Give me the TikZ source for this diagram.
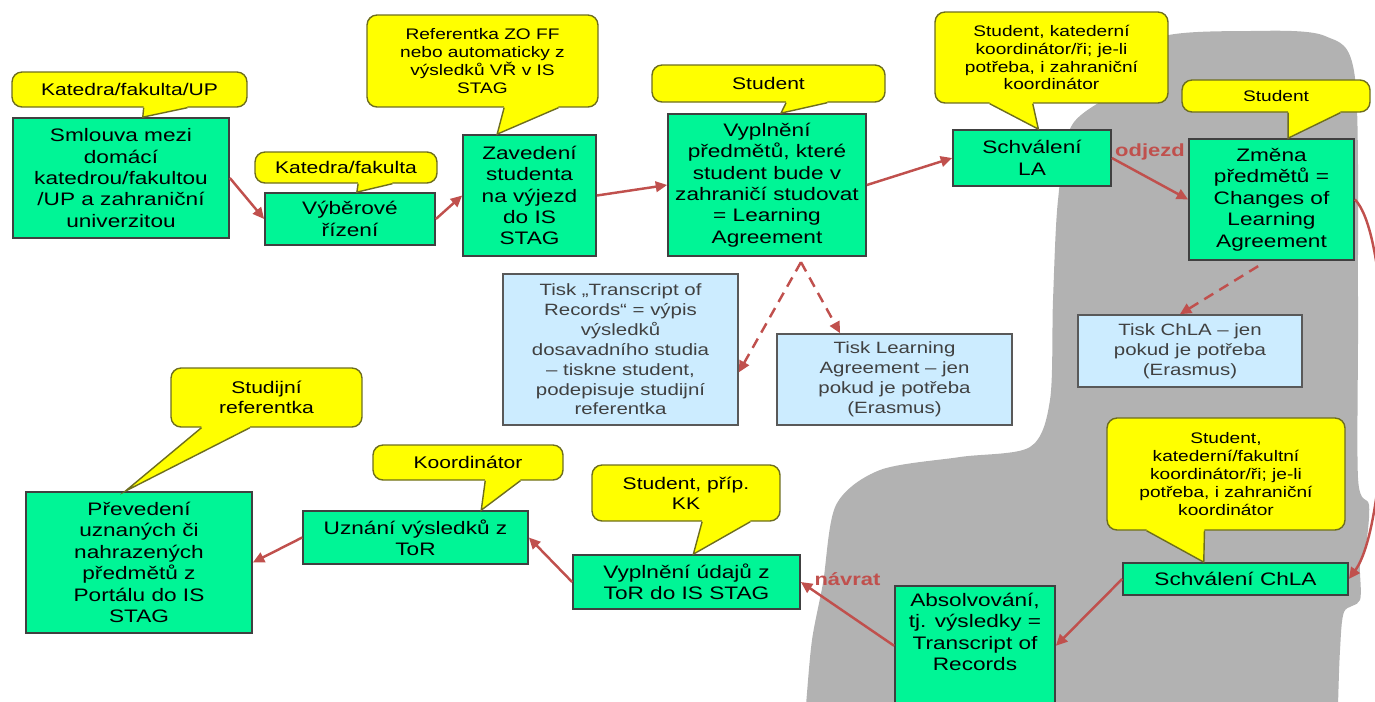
\documentclass[tikz,border=0pt]{standalone}
\usepackage{fontspec}
\setmainfont[FakeStretch=1.25]{Liberation Sans}
\usetikzlibrary{arrows.meta, calc, shapes.misc}

\definecolor{boxgreen}{RGB}{0,245,150}
\definecolor{boxblue}{RGB}{204,236,255}
\definecolor{bubbleyellow}{RGB}{255,255,0}
\definecolor{bubbleborder}{RGB}{110,110,30}
\definecolor{arrowred}{RGB}{192,80,77}
\definecolor{blobgray}{RGB}{178,178,178}

\tikzset{
    greenbox/.style={draw=black!75, line width=1pt, fill=boxgreen, align=center, inner sep=1pt,
        font=\fontsize{10.3pt}{12.2pt}\selectfont},
    bluebox/.style={draw=black!65, line width=0.9pt, fill=boxblue, text=black!75, align=center,
        inner sep=1pt, font=\fontsize{9.3pt}{11.3pt}\selectfont},
    bubbleline/.style={draw=bubbleborder, line width=0.8pt},
    bubble/.style={bubbleline, fill=bubbleyellow, rounded corners=0.2cm, align=center, inner sep=1pt,
        font=\fontsize{8.7pt}{10.2pt}\selectfont},
    bigbubble/.style={font=\fontsize{9.6pt}{11.3pt}\selectfont},
    flow/.style={draw=arrowred, line width=1.4pt, -{Triangle[length=6.5pt,width=6pt]}},
    dashflow/.style={flow, dash pattern=on 6pt off 4pt},
    arrowlabel/.style={text=arrowred, inner sep=0pt, font=\fontsize{10pt}{12pt}\selectfont\bfseries}
}

% pointer of a speech bubble: bubble, two fractions of its lower side, tip
\newcommand\calloutptr[4]{%
    \fill[bubbleyellow] ($(#1.south west)!#2!(#1.south east)+(0,1.5pt)$) -- ($(#1.south west)!#2!(#1.south east)$)
        -- (#4) -- ($(#1.south west)!#3!(#1.south east)$) -- ($(#1.south west)!#3!(#1.south east)+(0,1.5pt)$) -- cycle;
    \draw[bubbleline] ($(#1.south west)!#2!(#1.south east)$) -- (#4) -- ($(#1.south west)!#3!(#1.south east)$);
}

\begin{document}
\begin{tikzpicture}[x=0.02cm, y=-0.02cm]
    \useasboundingbox (0,0) rectangle (1375,701);

    % grey area (abroad)
    \fill[blobgray] plot[smooth cycle, tension=0.5] coordinates {
        (1058,200) (1072,125) (1125,85) (1158,38) (1250,31) (1325,36) (1355,78) (1358,300)
        (1358,478) (1369,505) (1366,545) (1360,565) (1360,600) (1344,612) (1340,650) (1338,705)
        (1336,780) (1100,800) (800,780) (806,705) (812,640) (823,583) (836,505) (880,470)
        (960,457) (1030,447) (1050,400) (1053,300)};

    % steps
    \node[greenbox, minimum width=4.32cm, minimum height=2.40cm] (smlouva) at (121,178)
        {Smlouva mezi\\domácí\\katedrou/fakultou\\/UP a zahraniční\\univerzitou};
    \node[greenbox, minimum width=3.40cm, minimum height=1.04cm] (vyber) at (350,219) {Výběrové\\řízení};
    \node[greenbox, minimum width=2.66cm, minimum height=2.42cm] (zavedeni) at (529.5,195.5)
        {Zavedení\\studenta\\na výjezd\\do IS\\STAG};
    \node[greenbox, minimum width=3.96cm, minimum height=2.84cm] (vyplneni) at (767,185)
        {Vyplnění\\předmětů, které\\student bude v\\zahraničí studovat\\= Learning\\Agreement};
    \node[greenbox, minimum width=3.16cm, minimum height=1.12cm] (schvLA) at (1032,158) {Schválení\\LA};
    \node[greenbox, minimum width=3.30cm, minimum height=2.42cm] (zmena) at (1271.5,199.5)
        {Změna\\předmětů =\\Changes of\\Learning\\Agreement};
    \node[greenbox, minimum width=4.50cm, minimum height=0.64cm] (schvChLA) at (1235.5,579) {Schválení ChLA};
    \node[greenbox, minimum width=3.20cm, anchor=north, inner ysep=4pt, text depth=16pt] (absolv) at (975,585)
        {Absolvování,\\tj. výsledky =\\Transcript of\\Records};
    \node[greenbox, minimum width=4.54cm, minimum height=1.08cm] (udaje) at (686.5,582)
        {Vyplnění údajů z\\ToR do IS STAG};
    \node[greenbox, minimum width=4.50cm, minimum height=1.06cm] (uznani) at (415.5,537.5)
        {Uznání výsledků z\\ToR};
    \node[greenbox, minimum width=4.52cm, minimum height=2.82cm] (prevedeni) at (139,562.5)
        {Převedení\\uznaných či\\nahrazených\\předmětů z\\Portálu do IS\\STAG};

    % prints
    \node[bluebox, minimum width=4.70cm, minimum height=3.02cm] (tiskToR) at (620.5,349.5)
        {Tisk „Transcript of\\Records“ = výpis\\výsledků\\dosavadního studia\\– tiskne student,\\podepisuje studijní\\referentka};
    \node[bluebox, minimum width=4.70cm, minimum height=1.82cm] (tiskLA) at (894.5,379.5)
        {Tisk Learning\\Agreement – jen\\pokud je potřeba\\(Erasmus)};
    \node[bluebox, minimum width=4.48cm, minimum height=1.44cm] (tiskChLA) at (1190,351)
        {Tisk ChLA – jen\\pokud je potřeba\\(Erasmus)};

    % who does it
    \node[bubble, bigbubble, minimum width=4.70cm, minimum height=0.70cm] (calA) at (129.5,89.5) {Katedra/fakulta/UP};
    \node[bubble, bigbubble, minimum width=3.64cm, minimum height=0.62cm] (calB) at (346,167.5) {Katedra/fakulta};
    \node[bubble, minimum width=4.62cm, minimum height=1.84cm] (calC) at (482.5,61)
        {Referentka ZO FF\\nebo automaticky z\\výsledků VŘ v IS\\STAG};
    \node[bubble, bigbubble, minimum width=4.66cm, minimum height=0.74cm] (calD) at (768.5,83.5) {Student};
    \node[bubble, minimum width=4.66cm, minimum height=1.82cm] (calE) at (1051.5,57.5)
        {Student, katederní\\koordinátor/ři; je-li\\potřeba, i zahraniční\\koordinátor};
    \node[bubble, minimum width=3.76cm, minimum height=0.64cm] (calF) at (1276,96) {Student};
    \node[bubble, minimum width=4.76cm, minimum height=2.24cm] (calG) at (1226,474)
        {Student,\\katederní/fakultní\\koordinátor/ři; je-li\\potřeba, i zahraniční\\koordinátor};
    \node[bubble, bigbubble, minimum width=3.82cm, minimum height=1.18cm] (calH) at (266.5,397.5) {Studijní\\referentka};
    \node[bubble, bigbubble, minimum width=3.80cm, minimum height=0.70cm] (calI) at (468,462.5) {Koordinátor};
    \node[bubble, bigbubble, minimum width=3.76cm, minimum height=1.12cm] (calJ) at (686,493) {Student, příp.\\KK};

    \coordinate (tipA) at ($(smlouva.north west)!0.60!(smlouva.north east)$);
    \coordinate (tipB) at ($(vyber.north west)!0.54!(vyber.north east)$);
    \coordinate (tipC) at ($(zavedeni.north west)!0.26!(zavedeni.north east)$);
    \coordinate (tipD) at ($(vyplneni.north west)!0.57!(vyplneni.north east)$);
    \coordinate (tipE) at ($(schvLA.north west)!0.54!(schvLA.north east)$);
    \coordinate (tipF) at ($(zmena.north west)!0.60!(zmena.north east)$);
    \coordinate (tipG) at ($(schvChLA.north west)!0.36!(schvChLA.north east)$);
    \coordinate (tipH) at ($(prevedeni.north west)!0.44!(prevedeni.north east)$);
    \coordinate (tipI) at ($(uznani.north west)!0.79!(uznani.north east)$);
    \coordinate (tipJ) at ($(udaje.north west)!0.53!(udaje.north east)$);

    \calloutptr{calA}{0.56}{0.745}{tipA}
    \calloutptr{calB}{0.566}{0.753}{tipB}
    \calloutptr{calC}{0.593}{0.827}{tipC}
    \calloutptr{calD}{0.575}{0.751}{tipD}
    \calloutptr{calE}{0.236}{0.42}{tipE}
    \calloutptr{calF}{0.564}{0.84}{tipF}
    \calloutptr{calG}{0.168}{0.41}{tipG}
    \calloutptr{calH}{0.162}{0.414}{tipH}
    \calloutptr{calI}{0.59}{0.774}{tipI}
    \calloutptr{calJ}{0.585}{0.84}{tipJ}

    % flow
    \draw[flow] (smlouva.east) -- (vyber.west);
    \draw[flow] (vyber.east) -- (zavedeni.west);
    \draw[flow] (zavedeni.east) -- (vyplneni.west);
    \draw[flow] (vyplneni.east) -- (schvLA.west);
    \draw[flow] (schvLA.east) -- node[arrowlabel, above=0.35cm] {odjezd} (zmena.west);
    \draw[flow] (zmena.east) .. controls (1395,240) and (1392,520) .. (schvChLA.east);
    \draw[flow] (schvChLA.west) -- (absolv.east);
    \draw[flow] (absolv.west) -- node[arrowlabel, above=0.55cm] {návrat} (udaje.east);
    \draw[flow] (udaje.west) -- (uznani.east);
    \draw[flow] (uznani.west) -- (prevedeni.east);

    % optional prints
    \coordinate (vyplOut) at ($(vyplneni.south west)!0.67!(vyplneni.south east)+(0,-3pt)$);
    \coordinate (torIn) at ($(tiskToR.north east)!0.65!(tiskToR.south east)$);
    \coordinate (laIn) at ($(tiskLA.north west)!0.27!(tiskLA.north east)$);
    \coordinate (zmenaOut) at ($(zmena.south west)!0.42!(zmena.south east)+(0,-3pt)$);
    \coordinate (chlaIn) at ($(tiskChLA.north west)!0.455!(tiskChLA.north east)$);
    \draw[dashflow] (vyplOut) -- (torIn);
    \draw[dashflow] (vyplOut) -- (laIn);
    \draw[dashflow] (zmenaOut) -- (chlaIn);
\end{tikzpicture}
\end{document}
